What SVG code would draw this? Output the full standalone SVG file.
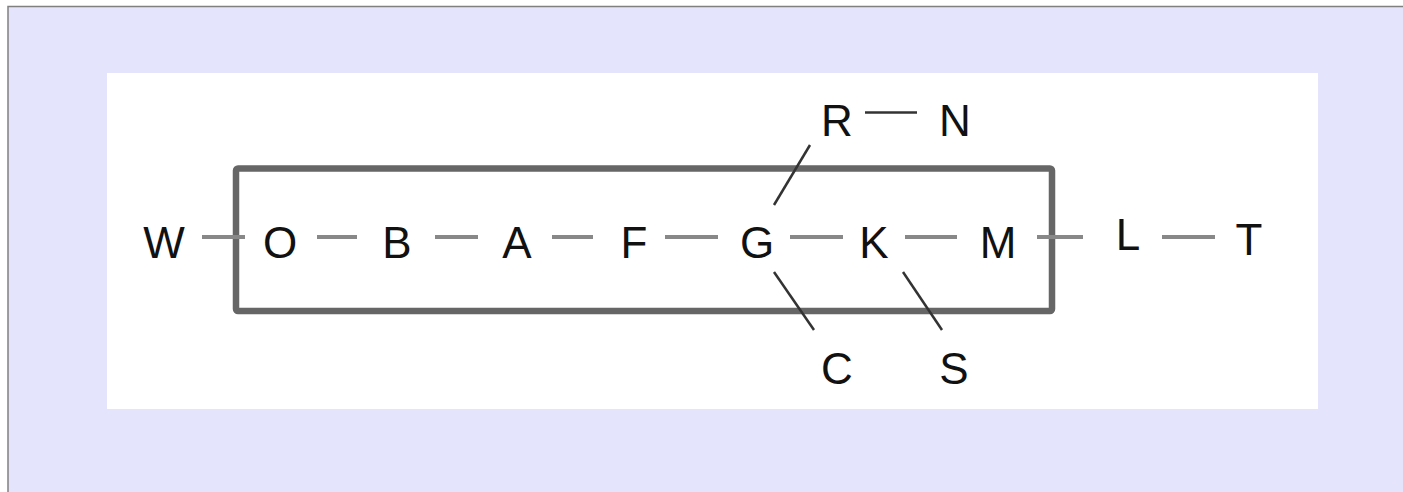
<svg xmlns="http://www.w3.org/2000/svg" width="1403" height="492" viewBox="0 0 1403 492">
<style>
.lbl{font-family:"Liberation Sans",Arial,sans-serif;font-size:44px;fill:#111;text-anchor:middle}
.e{stroke:#888;stroke-width:4;fill:none}
.d{stroke:#333;stroke-width:2.5;fill:none}
</style>
<rect x="0" y="0" width="1403" height="492" fill="#ffffff"/>
<rect x="8" y="6.5" width="1400" height="490" fill="#E4E4FC" stroke="#808080" stroke-width="1.5"/>
<rect x="107" y="73" width="1211" height="336" fill="#ffffff"/>
<g id="group-box">
<rect x="236" y="168.5" width="816" height="142.5" rx="2" fill="none" stroke="#666" stroke-width="6.5"/>
</g>
<g id="connectors">
<line class="e" x1="202" y1="237" x2="245" y2="237"/>
<line class="e" x1="317" y1="237" x2="357" y2="237"/>
<line class="e" x1="435" y1="237" x2="478" y2="237"/>
<line class="e" x1="552" y1="237" x2="593" y2="237"/>
<line class="e" x1="665" y1="237" x2="718" y2="237"/>
<line class="e" x1="790" y1="237" x2="843" y2="237"/>
<line class="e" x1="905" y1="237" x2="957" y2="237"/>
<line class="e" x1="1037" y1="237" x2="1083" y2="237"/>
<line class="e" x1="1162" y1="237" x2="1215" y2="237"/>
<line class="d" x1="865" y1="112.5" x2="917" y2="112.5"/>
<line class="d" x1="774" y1="205" x2="810" y2="145"/>
<line class="d" x1="774" y1="272" x2="814" y2="330"/>
<line class="d" x1="903" y1="272" x2="942" y2="330"/>
</g>
<g id="node-W"><text class="lbl" x="164" y="258">W</text></g>
<g id="node-O"><text class="lbl" x="280" y="258">O</text></g>
<g id="node-B"><text class="lbl" x="397" y="258">B</text></g>
<g id="node-A"><text class="lbl" x="517" y="258">A</text></g>
<g id="node-F"><text class="lbl" x="634" y="258">F</text></g>
<g id="node-G"><text class="lbl" x="757" y="258">G</text></g>
<g id="node-K"><text class="lbl" x="874" y="258">K</text></g>
<g id="node-M"><text class="lbl" x="998" y="258">M</text></g>
<g id="node-L"><text class="lbl" x="1128" y="250">L</text></g>
<g id="node-T"><text class="lbl" x="1249" y="255">T</text></g>
<g id="node-R"><text class="lbl" x="837" y="136">R</text></g>
<g id="node-N"><text class="lbl" x="955" y="136">N</text></g>
<g id="node-C"><text class="lbl" x="837" y="384">C</text></g>
<g id="node-S"><text class="lbl" x="954" y="384">S</text></g>
</svg>
